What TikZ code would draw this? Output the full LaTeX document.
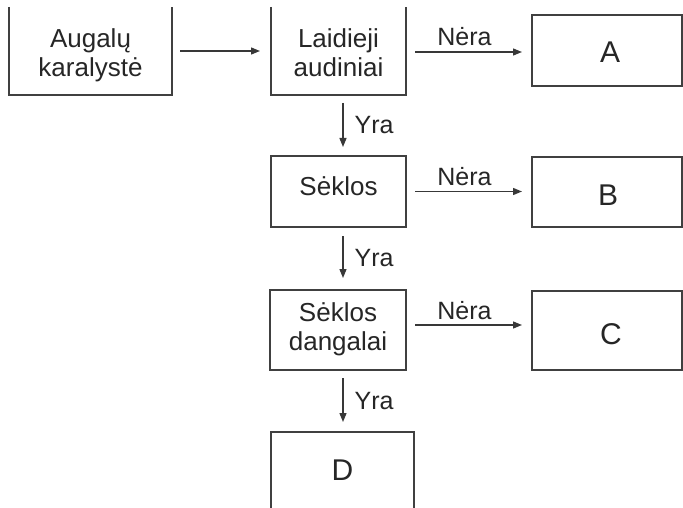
\documentclass[tikz,border=0pt]{standalone}
\usepackage{fontspec}
\setmainfont{Liberation Sans}
\usetikzlibrary{arrows.meta}
\begin{document}
\begin{tikzpicture}[x=1pt,y=-1pt,
  frame/.style={rectangle, inner sep=0pt, outer sep=0pt},
  boxline/.style={draw=black!75, line width=1.4pt},
  link/.style={draw=black!78, line width=1.3pt, -{Triangle[length=9pt,width=7pt]}},
  boxtext/.style={text=black!85, align=center, inner sep=0pt, font=\fontsize{26}{29}\selectfont},
  letter/.style={text=black!85, inner sep=0pt, font=\fontsize{30}{30}\selectfont},
  lbl/.style={text=black!85, inner sep=0pt, font=\fontsize{25}{25}\selectfont},
]
\useasboundingbox (0,0) rectangle (683,508);
\fill[white] (0,0) rectangle (683,508);

% frames
\node[frame, minimum width=163pt, minimum height=88pt] (aug)  at (90.5,51)   {};
\node[frame, minimum width=135pt, minimum height=88pt] (laid) at (338.5,51)  {};
\node[frame, boxline, minimum width=150pt, minimum height=71pt] (A) at (607,50.5) {};
\node[frame, boxline, minimum width=135pt, minimum height=71pt] (sek) at (338.5,191.5) {};
\node[frame, boxline, minimum width=150pt, minimum height=70pt] (B) at (607,192) {};
\node[frame, boxline, minimum width=136pt, minimum height=80pt] (sekd) at (338,330) {};
\node[frame, boxline, minimum width=150pt, minimum height=79pt] (C) at (607,330.5) {};
\node[frame, minimum width=143pt, minimum height=76pt] (D) at (342.5,470) {};

% open frames (cut by the page edges)
\draw[boxline] (aug.north west) -- (aug.south west) -- (aug.south east) -- (aug.north east);
\draw[boxline] (laid.north west) -- (laid.south west) -- (laid.south east) -- (laid.north east);
\draw[boxline] (D.south west) -- (D.north west) -- (D.north east) -- (D.south east);

% texts in the frames
\node[boxtext] (augT)  at ([yshift=-4pt]aug.center)  {Augalų\\karalystė};
\node[boxtext] (laidT) at ([yshift=-2pt]laid.center) {Laidieji\\audiniai};
\node[boxtext] (sekT)  at ([yshift=5pt]sek.center)   {Sėklos};
\node[boxtext] (sekdT) at ([yshift=1pt]sekd.center)  {Sėklos\\dangalai};
\node[letter] (AT) at ([yshift=-1.5pt,xshift=3pt]A.center) {A};
\node[letter] (BT) at ([yshift=-3pt,xshift=1pt]B.center)   {B};
\node[letter] (CT) at ([yshift=-4pt,xshift=4pt]C.center) {C};
\node[letter] (DT) at (D.center) {D};

% horizontal connectors
\draw[link, shorten <=8pt, shorten >=11pt] (aug.east) -- (laid.west);
\draw[link, shorten <=9pt, shorten >=10pt] ([yshift=-1pt]laid.east) -- ([yshift=-1pt]laid.east -| A.west)
  node[lbl, midway, anchor=south, yshift=6pt, xshift=-4.5pt] (n1) {Nėra};
\draw[link, shorten <=9pt, shorten >=10pt] (sek.east) -- (sek.east -| B.west)
  node[lbl, midway, anchor=south, yshift=5pt, xshift=-4.5pt] (n2) {Nėra};
\draw[link, shorten <=9pt, shorten >=10pt] ([yshift=5pt]sekd.east) -- ([yshift=5pt]sekd.east -| C.west)
  node[lbl, midway, anchor=south, yshift=5pt, xshift=-4.5pt] (n3) {Nėra};

% vertical connectors
\draw[link, shorten <=8pt, shorten >=9pt] ([xshift=4.5pt]laid.south) -- ([xshift=4.5pt]sek.north)
  node[lbl, midway, anchor=west, xshift=11pt] (y1) {Yra};
\draw[link, shorten <=9pt, shorten >=12pt] ([xshift=4.5pt]sek.south) -- ([xshift=4.5pt]sek.south |- sekd.north)
  node[lbl, midway, anchor=west, xshift=11pt] (y2) {Yra};
\draw[link, shorten <=8pt, shorten >=10pt] ([xshift=5pt]sekd.south) -- ([xshift=5pt]sekd.south |- D.north)
  node[lbl, midway, anchor=west, xshift=11pt] (y3) {Yra};
\end{tikzpicture}
\end{document}
